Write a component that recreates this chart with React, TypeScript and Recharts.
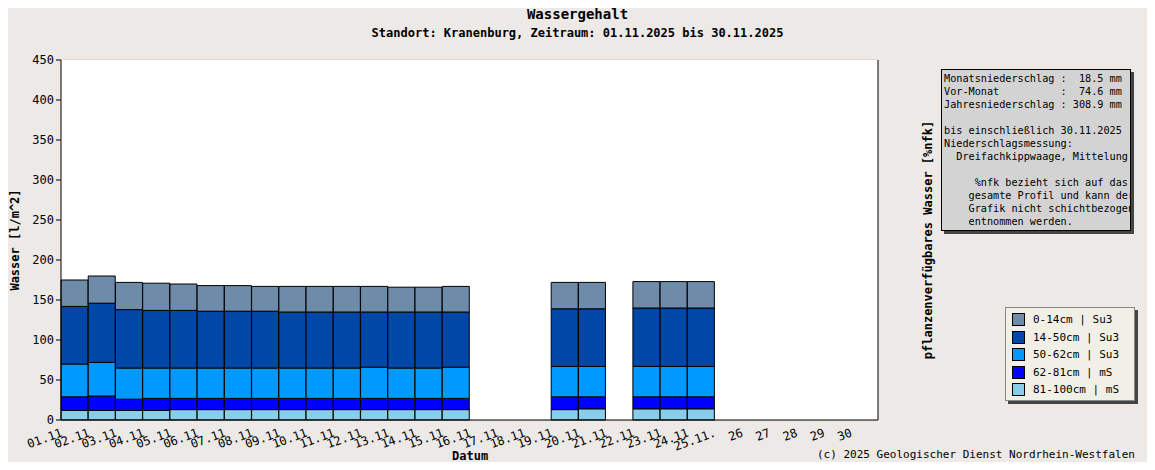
import React from 'react'
import { BarChart, Bar, XAxis, YAxis, CartesianGrid } from 'recharts'

const days = Array.from({ length: 30 }, (_, i) => i + 1)
const tickLabels = days.map((d) => (d <= 25 ? String(d).padStart(2, '0') + '.11' + (d === 25 ? '.' : '') : String(d)))

// layer values per day (null = no measurement)
const s81_100 = [12, 12, 12, 12, 13, 13, 13, 13, 13, 13, 13, 13, 13, 13, 13, null, null, null, 13, 14, null, 14, 14, 14, null, null, null, null, null, null]
const s62_81 = [17, 18, 14, 15, 14, 14, 14, 14, 14, 14, 14, 14, 14, 14, 14, null, null, null, 16, 15, null, 15, 15, 15, null, null, null, null, null, null]
const s50_62 = [41, 42, 39, 38, 38, 38, 38, 38, 38, 38, 38, 39, 38, 38, 39, null, null, null, 38, 38, null, 38, 38, 38, null, null, null, null, null, null]
const s14_50 = [72, 74, 73, 72, 72, 71, 71, 71, 70, 70, 70, 69, 70, 70, 69, null, null, null, 72, 72, null, 73, 73, 73, null, null, null, null, null, null]
const s0_14 = [33, 34, 34, 34, 33, 32, 32, 31, 32, 32, 32, 32, 31, 31, 32, null, null, null, 33, 33, null, 33, 33, 33, null, null, null, null, null, null]

const data = days.map((d, i) => ({
  day: tickLabels[i],
  a: s81_100[i], b: s62_81[i], c: s50_62[i], d: s14_50[i], e: s0_14[i],
}))

const legend = [
  { name: '0-14cm | Su3', color: '#6e8caa' },
  { name: '14-50cm | Su3', color: '#0047a8' },
  { name: '50-62cm | Su3', color: '#0099ff' },
  { name: '62-81cm | mS', color: '#0000ff' },
  { name: '81-100cm | mS', color: '#87ceeb' },
]

const mono = '"DejaVu Sans Mono", monospace'
const band = 817 / 30

const XTick = (props: any) => {
  const { x, y, payload } = props
  const px = x - band / 2 + 2
  return (
    <text x={px} y={y + 8} transform={`rotate(-20 ${px} ${y + 8})`} textAnchor="end" fontSize={12} fontFamily={mono} fill="#000">
      {payload.value}
    </text>
  )
}

export default function App() {
  return (
    <div style={{ position: 'relative', width: 1155, height: 470, margin: -8, background: '#ece9e6', fontFamily: mono, color: '#000', overflow: 'hidden' }}>
      <div style={{ position: 'absolute', left: 0, top: 0, width: 1148, height: 463, border: '1px solid #888', boxShadow: '3px 3px 0 #555' }} />
      <div style={{ position: 'absolute', left: 0, width: 1155, top: 6, textAlign: 'center', fontSize: 14, fontWeight: 'bold' }}>Wassergehalt</div>
      <div style={{ position: 'absolute', left: 0, width: 1155, top: 26, textAlign: 'center', fontSize: 12, fontWeight: 'bold' }}>Standort: Kranenburg, Zeitraum: 01.11.2025 bis 30.11.2025</div>
      <div style={{ position: 'absolute', left: 0, top: 0 }}>
        <BarChart width={1155} height={470} data={data} margin={{ top: 60, left: 11, right: 227, bottom: 0 }} barCategoryGap={0}>
          <rect x={61} y={60} width={817} height={360} fill="#fff" />
          <CartesianGrid vertical={false} stroke="#c8c8c8" yAxisId="l" />
          <XAxis dataKey="day" interval={0} tick={<XTick />} tickLine={false} stroke="#000" height={50} />
          <YAxis yAxisId="l" width={50} domain={[0, 450]} ticks={[0, 50, 100, 150, 200, 250, 300, 350, 400, 450]} tick={{ fontSize: 12, fontFamily: mono, fill: '#000' }} stroke="#000" tickSize={5} />
          <YAxis yAxisId="r" orientation="right" width={50} domain={[0, 329.3]} ticks={[0, 50, 100, 150, 200, 250, 300]} tick={{ fontSize: 12, fontFamily: mono, fill: '#000' }} stroke="#000" tickSize={5} />
          <Bar yAxisId="l" dataKey="a" stackId="s" fill="#87ceeb" stroke="#000" isAnimationActive={false} />
          <Bar yAxisId="l" dataKey="b" stackId="s" fill="#0000ff" stroke="#000" isAnimationActive={false} />
          <Bar yAxisId="l" dataKey="c" stackId="s" fill="#0099ff" stroke="#000" isAnimationActive={false} />
          <Bar yAxisId="l" dataKey="d" stackId="s" fill="#0047a8" stroke="#000" isAnimationActive={false} />
          <Bar yAxisId="l" dataKey="e" stackId="s" fill="#6e8caa" stroke="#000" isAnimationActive={false} />
        </BarChart>
      </div>
      <div style={{ position: 'absolute', left: 15, top: 240, transform: 'translate(-50%,-50%) rotate(-90deg)', fontSize: 12, fontWeight: 'bold', whiteSpace: 'nowrap' }}>Wasser [l/m^2]</div>
      <div style={{ position: 'absolute', left: 928, top: 240, transform: 'translate(-50%,-50%) rotate(-90deg)', fontSize: 12, fontWeight: 'bold', whiteSpace: 'nowrap' }}>pflanzenverfügbares Wasser [%nfk]</div>
      <div style={{ position: 'absolute', left: 452, top: 449, fontSize: 12, fontWeight: 'bold' }}>Datum</div>
      <div style={{ position: 'absolute', left: 817, top: 448, fontSize: 11, whiteSpace: 'nowrap' }}>(c) 2025 Geologischer Dienst Nordrhein-Westfalen</div>
      <div style={{ position: 'absolute', left: 941, top: 69, width: 186, height: 158, background: '#d3d3d3', border: '1px solid #000', boxShadow: '3px 3px 0 #444', fontSize: 10.2, lineHeight: '13px', padding: '2px 0 0 2px', whiteSpace: 'pre', overflow: 'hidden' }}>
        {'Monatsniederschlag :  18.5 mm\nVor-Monat          :  74.6 mm\nJahresniederschlag : 308.9 mm\n\nbis einschließlich 30.11.2025\nNiederschlagsmessung:\n  Dreifachkippwaage, Mittelung\n\n     %nfk bezieht sich auf das\n    gesamte Profil und kann der\n    Grafik nicht schichtbezogen\n    entnommen werden.'}
      </div>
      <div style={{ position: 'absolute', left: 1005, top: 307, width: 122, height: 89, background: '#f0f0e6', border: '1px solid #888', boxShadow: '3px 3px 0 #444', fontSize: 11, padding: '3px 0 0 6px' }}>
        {legend.map((l) => (
          <div key={l.name} style={{ display: 'flex', alignItems: 'center', height: 17.5 }}>
            <span style={{ width: 11, height: 11, background: l.color, border: '1px solid #000', marginRight: 8 }} />
            {l.name}
          </div>
        ))}
      </div>
    </div>
  )
}
